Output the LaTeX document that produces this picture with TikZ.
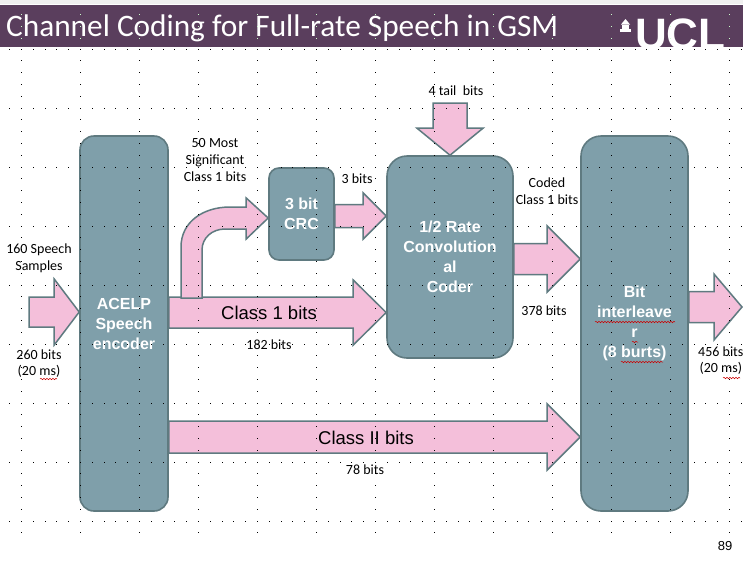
\documentclass[tikz,border=0pt]{standalone}
\usepackage{fontspec}
\setmainfont{Carlito}
\newfontfamily\arialfont{Liberation Sans}
\usetikzlibrary{calc,decorations.pathmorphing}

\definecolor{barcol}{HTML}{5A3E5D}
\definecolor{boxcol}{HTML}{7F9FAA}
\definecolor{edgecol}{HTML}{5F7A80}
\definecolor{pinkcol}{HTML}{F4BFDA}

% horizontal block arrow: from, to, tip y, half shaft, half head, head length
\newcommand{\blockarr}[6]{
\coordinate (from) at (#1 |- 0,#3);
\coordinate (tip) at (#2 |- 0,#3);
\draw[arr] ($(from)+(0,-#4)$) -- ($(tip)+(-#6,-#4)$) -- ($(tip)+(-#6,-#5)$) -- (tip)
  -- ($(tip)+(-#6,#5)$) -- ($(tip)+(-#6,#4)$) -- ($(from)+(0,#4)$) -- cycle;
}

\begin{document}
\begin{tikzpicture}[x=1pt,y=-1pt,
    box/.style={draw=edgecol, line width=1.6pt, fill=boxcol, inner sep=0pt, align=center, text=white,
      font=\arialfont\bfseries\fontsize{16}{20}\selectfont},
    arr/.style={draw=edgecol, line width=1.5pt, fill=pinkcol, line join=miter},
    lab/.style={inner sep=0pt, align=center, font=\fontsize{14}{16.8}\selectfont},
    biglab/.style={inner sep=0pt, font=\arialfont\fontsize{18.5}{20}\selectfont},
    squig/.style={red!80!black, line width=0.5pt, decorate, decoration={snake, amplitude=0.7pt, segment length=3pt}}
]
\useasboundingbox (0,0) rectangle (743,566);
\fill[white] (0,0) rectangle (743,566);

% header
\fill[black!6] (0,0) rectangle (743,4);
\fill[barcol] (0,5) rectangle (743,47);
\node[anchor=base west, inner sep=0pt, text=white, font=\fontsize{31.3}{33}\selectfont] (title) at (6,36) {Channel Coding for Full-rate Speech in GSM};
\begin{scope}
\clip (600,5) rectangle (743,47);
\node[anchor=base west, inner sep=0pt, text=white, font=\arialfont\bfseries\fontsize{44}{44}\selectfont] (ucl) at (635,49) {UCL};
\fill[white] (620,29) rectangle (631,32);
\fill[white] (622,24.5) rectangle (629,29);
\fill[white] (621,24.5) -- (625.5,19) -- (630,24.5) -- cycle;
\end{scope}

% blocks
\node[box, minimum width=88pt, minimum height=375pt, rounded corners=14pt] (enc) at (124,323.5) {ACELP\\Speech\\encoder};
\node[box, minimum width=65pt, minimum height=92pt, rounded corners=10pt] (crc) at (301.5,214) {3 bit\\CRC};
\node[box, minimum width=126pt, minimum height=202pt, rounded corners=20pt] (coder) at (450,257) {1/2 Rate\\Convolution\\al\\Coder};
\node[box, minimum width=107pt, minimum height=375pt, rounded corners=20pt] (inter) at (634.5,323.5) {Bit\\interleave\\r\\(8 burts)};
\coordinate (in) at (29,312);
\coordinate (out) at (742,307);

% block arrows
\blockarr{in}{enc.west}{312}{15}{33}{25}
\blockarr{enc.east}{coder.west}{312.5}{15.5}{32.5}{33}
\blockarr{enc.east}{inter.west}{437}{16}{33}{33}
\blockarr{crc.east}{coder.west}{216}{11.5}{23}{23}
\blockarr{coder.east}{inter.west}{259}{15.5}{33}{33}
\blockarr{inter.east}{out}{307}{15.5}{33}{28}

% branch from the encoder up to the CRC
\coordinate (tip) at (crc.west |- 0,218);
\draw[arr] (181,298) -- (181,247) .. controls (181,222) and (203,207) .. (230,207) -- ($(tip)+(-22,-11)$)
  -- ($(tip)+(-22,-20)$) -- (tip) -- ($(tip)+(-22,21)$) -- ($(tip)+(-22,11)$) -- (225,229)
  .. controls (212,229) and (202,238) .. (202,250) -- (202,298) -- cycle;

% tail bits
\coordinate (tip) at (coder.north);
\draw[arr] ($(tip)+(-17,-52)$) -- ($(tip)+(17,-52)$) -- ($(tip)+(17,-27)$) -- ($(tip)+(33,-27)$) -- (tip)
  -- ($(tip)+(-33,-27)$) -- ($(tip)+(-17,-27)$) -- cycle;

% labels
\node[lab] (samples) at (39,258.5) {160 Speech\\Samples};
\node[lab] (inbits) at (39,363.5) {260 bits\\(20 ms)};
\node[lab] (msb) at (215,160) {50 Most\\Significant\\Class 1 bits};
\node[lab] (crcbits) at (357,179) {3 bits};
\node[lab] (c1bits) at (269,345) {182 bits};
\node[lab] (c2bits) at (365,470) {78 bits};
\node[lab] (tail) at (456,91) {4 tail~~bits};
\node[lab] (coded) at (547,191.5) {Coded\\Class 1 bits};
\node[lab] (codedbits) at (544,311) {378 bits};
\node[lab, anchor=west] (outbits) at (698,360.5) {456 bits\\(20 ms)};
\node[biglab] (class1) at (269,313) {Class 1 bits};
\node[biglab] (class2) at (366,438) {Class II bits};
\node[inner sep=0pt, font=\arialfont\fontsize{13}{15}\selectfont] (page) at (725,546) {89};

% spelling marks
\draw[squig] (40,379) -- (57,379);
\draw[squig] (595,322) -- (675,322);
\draw[squig] (632,342) -- (638,342);
\draw[squig] (621,362) -- (663,362);
\draw[squig] (723,378) -- (740,378);

% grid dots
\foreach \row in {0,...,8}
  \foreach \col in {0,...,62}
    \fill ({9.5+11.8*\col-0.35},{49+59*\row-0.35}) rectangle +(0.7,0.7);
\foreach \col in {0,...,12}
  \foreach \row in {1,...,41}
    \fill ({21+59*\col-0.35},{49+11.8*\row-0.35}) rectangle +(0.7,0.7);
\foreach \col in {0,...,12}
  \foreach \row in {14,26,38}
    \fill[white!80!green] ({21+59*\col-0.35},{\row-0.35}) rectangle +(0.7,0.7);
\end{tikzpicture}
\end{document}
